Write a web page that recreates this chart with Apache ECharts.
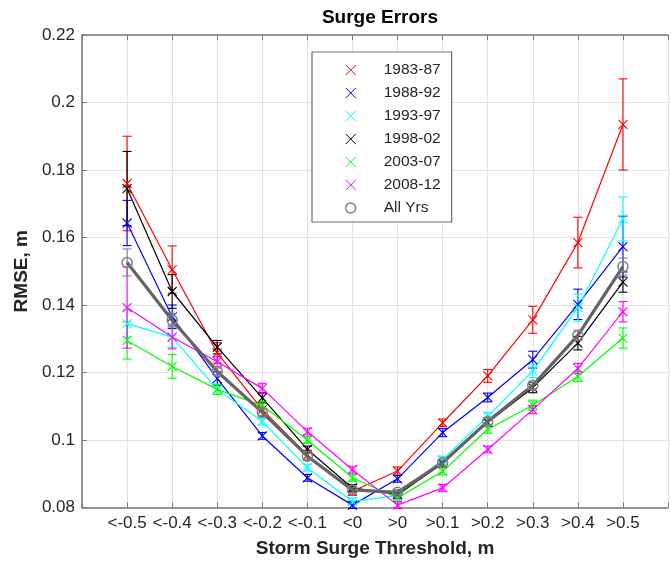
<!DOCTYPE html>
<html>
<head>
<meta charset="utf-8">
<title>Surge Errors</title>
<script src="https://cdn.jsdelivr.net/npm/echarts@6/dist/echarts.min.js"></script>
<style>
    html, body { margin: 0; padding: 0; background: #fff; }
    #surgeChart { width: 671px; height: 568px; }
</style>
</head>
<body>
<div id="surgeChart"></div>
<script>
// 阈值类别
var categories = ['<-0.5', '<-0.4', '<-0.3', '<-0.2', '<-0.1', '<0', '>0', '>0.1', '>0.2', '>0.3', '>0.4', '>0.5'];
var yTicks = [0.08, 0.1, 0.12, 0.14, 0.16, 0.18, 0.2, 0.22];

// RMSE 及误差棒(半长)
var rmse8387 = [0.176, 0.1505, 0.1258, 0.109, 0.0955, 0.0848, 0.0908, 0.1051, 0.119, 0.1356, 0.1585, 0.1935];
var err8387 = [0.014, 0.007, 0.003, 0.002, 0.0015, 0.0012, 0.0012, 0.0011, 0.0019, 0.004, 0.0075, 0.0135];
var rmse8892 = [0.1643, 0.1365, 0.1182, 0.1012, 0.0888, 0.0807, 0.0885, 0.1022, 0.1126, 0.1238, 0.1402, 0.1573];
var err8892 = [0.0067, 0.0035, 0.002, 0.001, 0.001, 0.001, 0.001, 0.0012, 0.0013, 0.0025, 0.0045, 0.009];
var rmse9397 = [0.1345, 0.1305, 0.115, 0.1055, 0.0918, 0.0818, 0.0835, 0.0942, 0.107, 0.1205, 0.1392, 0.1655];
var err9397 = [0.004, 0.003, 0.0015, 0.001, 0.001, 0.001, 0.001, 0.001, 0.0012, 0.002, 0.004, 0.0065];
var rmse9802 = [0.1745, 0.144, 0.1275, 0.1125, 0.0972, 0.0858, 0.0838, 0.093, 0.1052, 0.1155, 0.1287, 0.1468];
var err9802 = [0.011, 0.005, 0.002, 0.0015, 0.001, 0.001, 0.001, 0.001, 0.0012, 0.0015, 0.002, 0.003];
var rmse0307 = [0.1295, 0.1218, 0.115, 0.1102, 0.1, 0.0888, 0.0828, 0.0907, 0.1032, 0.1103, 0.1188, 0.1302];
var err0307 = [0.0055, 0.0035, 0.0015, 0.0012, 0.001, 0.001, 0.001, 0.001, 0.0012, 0.0015, 0.0015, 0.003];
var rmse0812 = [0.1392, 0.1305, 0.1232, 0.1153, 0.1025, 0.0912, 0.0807, 0.0858, 0.0972, 0.109, 0.1212, 0.138];
var err0812 = [0.012, 0.0035, 0.0015, 0.0015, 0.001, 0.001, 0.001, 0.001, 0.001, 0.0012, 0.0015, 0.003];
var rmseAll = [0.1526, 0.1355, 0.1203, 0.1082, 0.0952, 0.0852, 0.0845, 0.0933, 0.1055, 0.1162, 0.131, 0.1514];
var errAll = [0.004, 0.002, 0.001, 0.001, 0.0008, 0.0008, 0.0008, 0.0008, 0.001, 0.001, 0.0015, 0.0025];

var periods = [
    {name: '1983-87', color: '#ff0000', values: rmse8387, errors: err8387},
    {name: '1988-92', color: '#0000ff', values: rmse8892, errors: err8892},
    {name: '1993-97', color: '#00ffff', values: rmse9397, errors: err9397},
    {name: '1998-02', color: '#000000', values: rmse9802, errors: err9802},
    {name: '2003-07', color: '#00ff00', values: rmse0307, errors: err0307},
    {name: '2008-12', color: '#ff00ff', values: rmse0812, errors: err0812}
];

var CROSS = 'path://M0,0L10,10M0,10L10,0';
var FONT = '"Liberation Sans", Arial, Helvetica, sans-serif';

$ready();

/**
 * @description 页面加载后画图
 */
function $ready() {
    var myChart = echarts.init(document.getElementById('surgeChart'));
    myChart.setOption(buildOption(), true);
}

/**
 * @description 误差棒(竖线 + 上下横帽)
 */
function renderErrorBar(params, api) {
    var x = api.value(0);
    var v = api.value(1);
    var e = api.value(2);
    var hi = api.coord([x, v + e]);
    var lo = api.coord([x, v - e]);
    var half = 4.5;
    var style = {stroke: api.visual('color'), lineWidth: 1.1};
    return {
        type: 'group',
        children: [
            {type: 'line', shape: {x1: hi[0], y1: hi[1], x2: lo[0], y2: lo[1]}, style: style},
            {type: 'line', shape: {x1: hi[0] - half, y1: hi[1], x2: hi[0] + half, y2: hi[1]}, style: style},
            {type: 'line', shape: {x1: lo[0] - half, y1: lo[1], x2: lo[0] + half, y2: lo[1]}, style: style}
        ]
    };
}

function toPoints(values) {
    var out = [];
    for (var i = 0; i < values.length; i++) {
        out.push([i + 1, values[i]]);
    }
    return out;
}

function toBars(values, errors) {
    var out = [];
    for (var i = 0; i < values.length; i++) {
        out.push([i + 1, values[i], errors[i]]);
    }
    return out;
}

function buildOption() {
    var series = [];
    var legendData = [];
    for (var i = 0; i < periods.length; i++) {
        var p = periods[i];
        series.push({
            name: p.name,
            type: 'line',
            data: toPoints(p.values),
            symbol: CROSS,
            symbolSize: 9,
            showAllSymbol: true,
            lineStyle: {color: p.color, width: 1.2},
            itemStyle: {color: p.color, borderColor: p.color, borderWidth: 1.1},
            emphasis: {disabled: true},
            z: 3
        });
        series.push({
            type: 'custom',
            data: toBars(p.values, p.errors),
            renderItem: renderErrorBar,
            encode: {x: 0, y: 1},
            itemStyle: {color: p.color},
            z: 3
        });
        legendData.push({
            name: p.name,
            icon: CROSS,
            itemStyle: {color: p.color, borderColor: p.color, borderWidth: 1}
        });
    }
    series.push({
        name: 'All Yrs',
        type: 'line',
        data: toPoints(rmseAll),
        symbol: 'circle',
        symbolSize: 10,
        showAllSymbol: true,
        lineStyle: {color: '#646464', width: 3.2},
        itemStyle: {color: 'rgba(0,0,0,0)', borderColor: '#808080', borderWidth: 1.5},
        emphasis: {disabled: true},
        z: 4
    });
    series.push({
        type: 'custom',
        data: toBars(rmseAll, errAll),
        renderItem: renderErrorBar,
        encode: {x: 0, y: 1},
        itemStyle: {color: '#808080'},
        z: 4
    });
    legendData.push({
        name: 'All Yrs',
        icon: 'circle',
        itemStyle: {color: 'rgba(0,0,0,0)', borderColor: '#808080', borderWidth: 1.5}
    });

    var axisLine = {show: true, lineStyle: {color: '#777777', width: 1.5}};
    var splitLine = {show: true, lineStyle: {color: '#e3e3e3', width: 1}};

    return {
        animation: false,
        backgroundColor: '#ffffff',
        textStyle: {fontFamily: FONT},
        graphic: [{
            type: 'text',
            x: 380,
            y: 18,
            style: {
                text: 'Surge Errors',
                font: 'bold 19px ' + FONT,
                fill: '#000000',
                textAlign: 'center',
                textVerticalAlign: 'middle'
            }
        }],
        legend: {
            orient: 'vertical',
            left: 312,
            top: 52,
            data: legendData,
            itemWidth: 10,
            itemHeight: 10,
            itemGap: 7,
            padding: [10, 11, 6, 33],
            backgroundColor: '#ffffff',
            borderColor: '#6e6e6e',
            borderWidth: 1.2,
            selectedMode: false,
            textStyle: {fontSize: 15.5, color: '#262626', fontFamily: FONT, lineHeight: 16, padding: [0, 0, 0, 23]}
        },
        grid: {left: 82, top: 35, width: 598, height: 472.5},
        xAxis: [{
            type: 'value',
            min: 0,
            max: 13,
            interval: 1,
            name: 'Storm Surge Threshold, m',
            nameLocation: 'middle',
            nameGap: 32,
            nameTextStyle: {fontSize: 19, fontWeight: 'bold', color: '#262626', fontFamily: FONT},
            axisLine: axisLine,
            axisTick: {show: true, inside: true, length: 5, lineStyle: {color: '#777777'}},
            axisLabel: {
                fontSize: 17,
                color: '#262626',
                margin: 7,
                fontFamily: FONT,
                formatter: function (v) {
                    return categories[v - 1] || '';
                }
            },
            splitLine: splitLine
        }, {
            type: 'value',
            position: 'top',
            min: 0,
            max: 13,
            interval: 1,
            axisLine: axisLine,
            axisTick: {show: true, inside: true, length: 5, lineStyle: {color: '#777777'}},
            axisLabel: {show: false},
            splitLine: {show: false}
        }],
        yAxis: {
            type: 'value',
            min: yTicks[0],
            max: yTicks[yTicks.length - 1],
            interval: 0.02,
            name: 'RMSE, m',
            nameLocation: 'middle',
            nameGap: 48,
            nameTextStyle: {fontSize: 19, fontWeight: 'bold', color: '#262626', fontFamily: FONT},
            axisLine: axisLine,
            axisTick: {show: true, inside: true, length: 5, lineStyle: {color: '#777777'}},
            axisLabel: {
                fontSize: 17,
                color: '#262626',
                margin: 7,
                fontFamily: FONT,
                formatter: function (v) {
                    return String(parseFloat(v.toFixed(2)));
                }
            },
            splitLine: splitLine
        },
        series: series
    };
}
</script>
</body>
</html>
